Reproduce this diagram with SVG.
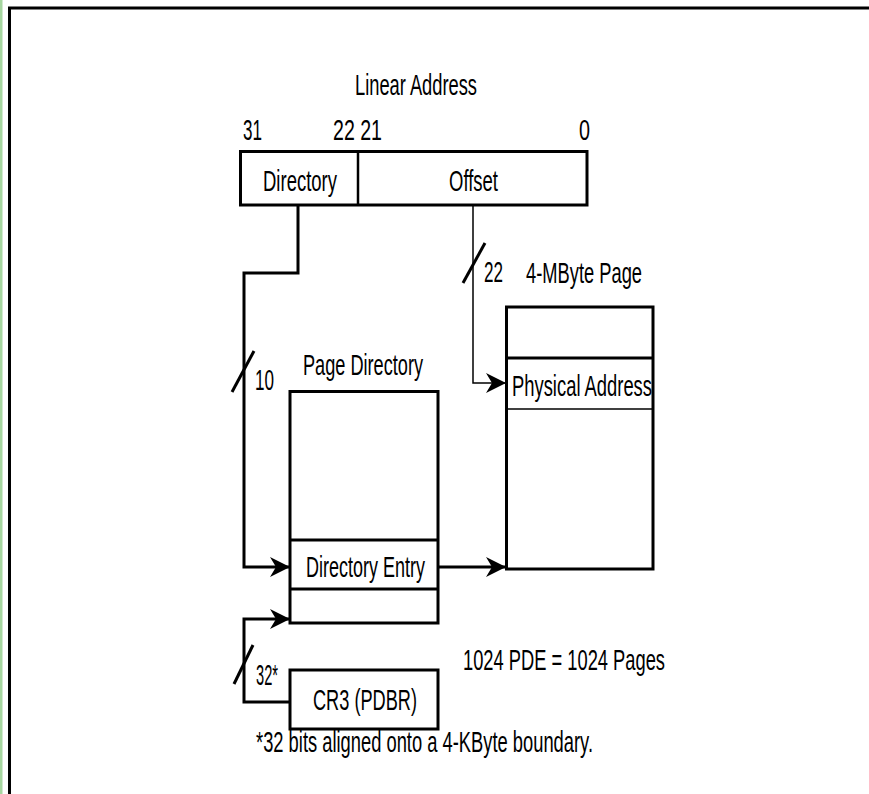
<svg xmlns="http://www.w3.org/2000/svg" width="869" height="794" viewBox="0 0 869 794">
<defs>
<style>
.t{font-family:"Liberation Sans",Arial,sans-serif;font-size:29px;fill:#000}
.box{fill:none;stroke:#000;stroke-width:3}
.thin{fill:none;stroke:#000;stroke-width:1.5}
.c{fill:none;stroke:#000;stroke-width:3}
</style>
<marker id="ah" markerUnits="userSpaceOnUse" markerWidth="22" markerHeight="22" refX="20" refY="11" orient="auto">
<path d="M0,1 L20,11 L0,21 L6,11 z" fill="#000"/>
</marker>
</defs>
<rect x="0" y="0" width="869" height="794" fill="#fff"/>
<rect x="0" y="0" width="2.5" height="794" fill="#a6d6a0"/>
<path d="M9.5,800 V8 H872" fill="none" stroke="#000" stroke-width="3"/>

<text class="t" x="355" y="95" textLength="122" lengthAdjust="spacingAndGlyphs">Linear Address</text>

<g id="linear-address">
<text class="t" x="243" y="140" textLength="19" lengthAdjust="spacingAndGlyphs">31</text>
<text class="t" x="333" y="140" textLength="49" lengthAdjust="spacingAndGlyphs">22 21</text>
<text class="t" x="579" y="140" textLength="11" lengthAdjust="spacingAndGlyphs">0</text>
<rect class="box" x="240.5" y="151.5" width="346.5" height="53.5"/>
<line x1="358" y1="151.5" x2="358" y2="205" stroke="#000" stroke-width="2.5"/>
<text class="t" x="263" y="191" textLength="74" lengthAdjust="spacingAndGlyphs">Directory</text>
<text class="t" x="449" y="191" textLength="49" lengthAdjust="spacingAndGlyphs">Offset</text>
</g>

<g id="page-directory">
<text class="t" x="303" y="375" textLength="120" lengthAdjust="spacingAndGlyphs">Page Directory</text>
<rect class="box" x="290" y="391.5" width="148" height="231.5"/>
<line x1="290" y1="540" x2="438" y2="540" stroke="#000" stroke-width="3"/>
<line x1="290" y1="589" x2="438" y2="589" stroke="#000" stroke-width="3"/>
<text class="t" x="306" y="577" textLength="119" lengthAdjust="spacingAndGlyphs">Directory Entry</text>
</g>

<g id="page-4mb">
<text class="t" x="526" y="283" textLength="116" lengthAdjust="spacingAndGlyphs">4-MByte Page</text>
<rect class="box" x="506.5" y="307" width="146.5" height="262"/>
<line x1="506.5" y1="358" x2="653" y2="358" stroke="#000" stroke-width="3"/>
<line x1="506.5" y1="409" x2="653" y2="409" stroke="#000" stroke-width="1.5"/>
<text class="t" x="512" y="396" textLength="140" lengthAdjust="spacingAndGlyphs">Physical Address</text>
</g>

<g id="cr3">
<rect class="box" x="290" y="670" width="148" height="59"/>
<text class="t" x="313" y="710" textLength="104" lengthAdjust="spacingAndGlyphs">CR3 (PDBR)</text>
</g>

<g id="connectors">
<path class="c" d="M298,205 V273 H244 V567 H290" marker-end="url(#ah)"/>
<line class="c" x1="232" y1="392" x2="254" y2="351"/>
<text class="t" x="255" y="390" textLength="19" lengthAdjust="spacingAndGlyphs">10</text>
<path class="thin" d="M473,205 V383 H506" marker-end="url(#ah)"/>
<line class="c" x1="463" y1="283" x2="485" y2="243"/>
<text class="t" x="484" y="282" textLength="19" lengthAdjust="spacingAndGlyphs">22</text>
<path class="c" d="M438,567 H506" marker-end="url(#ah)"/>
<path class="c" d="M290,702 H244 V619 H290" marker-end="url(#ah)"/>
<line class="c" x1="234" y1="684" x2="253" y2="645"/>
<text class="t" x="256" y="685" textLength="22" lengthAdjust="spacingAndGlyphs">32*</text>
</g>

<text class="t" x="463" y="670" textLength="202" lengthAdjust="spacingAndGlyphs">1024 PDE = 1024 Pages</text>
<text class="t" x="256" y="752" textLength="337" lengthAdjust="spacingAndGlyphs">*32 bits aligned onto a 4-KByte boundary.</text>
</svg>
